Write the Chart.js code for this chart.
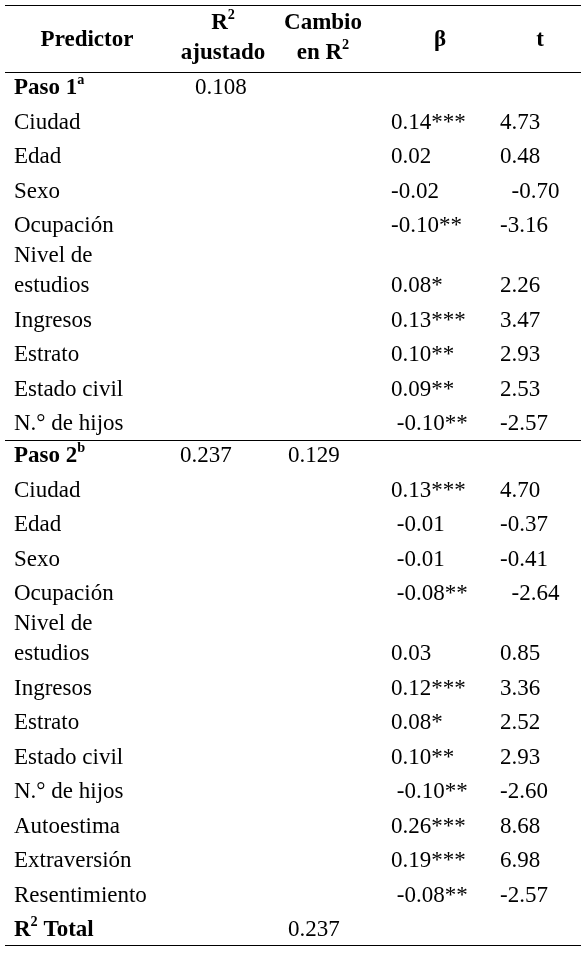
<!DOCTYPE html>
<html>
<head>
<meta charset="utf-8">
<script src="https://cdn.jsdelivr.net/npm/chart.js@4"></script>
<style>
  html, body { margin: 0; padding: 0; background: #fff; }
  #wrap { width: 587px; height: 954px; }
</style>
</head>
<body>
<div id="wrap"><canvas id="tbl"></canvas></div>
<script>
// Table values
const headers = ['Predictor', 'R^2|ajustado', 'Cambio|en R^2', 'β', 't'];
const steps = ['Paso 1_a', 'Paso 2_b'];
const r2Adjusted = ['0.108', '0.237'];
const r2Change = ['', '0.129'];
const predictors1 = ['Ciudad', 'Edad', 'Sexo', 'Ocupación', 'Nivel de|estudios', 'Ingresos', 'Estrato', 'Estado civil', 'N.° de hijos'];
const beta1 = ['0.14***', '0.02', '-0.02', '-0.10**', '0.08*', '0.13***', '0.10**', '0.09**', ' -0.10**'];
const t1 = ['4.73', '0.48', '  -0.70', '-3.16', '2.26', '3.47', '2.93', '2.53', '-2.57'];
const predictors2 = ['Ciudad', 'Edad', 'Sexo', 'Ocupación', 'Nivel de|estudios', 'Ingresos', 'Estrato', 'Estado civil', 'N.° de hijos', 'Autoestima', 'Extraversión', 'Resentimiento'];
const beta2 = ['0.13***', ' -0.01', ' -0.01', ' -0.08**', '0.03', '0.12***', '0.08*', '0.10**', ' -0.10**', '0.26***', '0.19***', ' -0.08**'];
const t2 = ['4.70', '-0.37', '-0.41', '  -2.64', '0.85', '3.36', '2.52', '2.93', '-2.60', '8.68', '6.98', '-2.57'];
const totalLabel = 'R^2 Total';
const totalValue = '0.237';

const FONT = '"Liberation Serif", "Times New Roman", serif';
const SIZE = 23;

// draws text with ^ (superscript) / _ (superscript letter) markup
function rich(ctx, str, x, y, bold, align) {
  const parts = [];
  const re = /([\^_])(\S)/g;
  let last = 0, m;
  while ((m = re.exec(str))) {
    if (m.index > last) parts.push({ t: str.slice(last, m.index), sup: false });
    parts.push({ t: m[2], sup: true });
    last = re.lastIndex;
  }
  if (last < str.length) parts.push({ t: str.slice(last), sup: false });
  const w = (p) => { ctx.font = (bold ? 'bold ' : '') + (p.sup ? SIZE * 0.62 : SIZE) + 'px ' + FONT; return ctx.measureText(p.t).width; };
  let total = parts.reduce((s, p) => s + w(p), 0);
  let cx = align === 'center' ? x - total / 2 : x;
  ctx.textBaseline = 'middle';
  ctx.textAlign = 'left';
  parts.forEach(p => {
    const pw = w(p);
    ctx.fillText(p.t, cx, p.sup ? y - 8 : y);
    cx += pw;
  });
}

const tablePlugin = {
  id: 'tablePlugin',
  afterDraw(chart) {
    const ctx = chart.ctx;
    const xs = chart.scales.x, ys = chart.scales.y;
    const X = v => xs.getPixelForValue(v);
    const Y = v => ys.getPixelForValue(v);
    ctx.save();
    ctx.fillStyle = '#000';
    ctx.strokeStyle = '#000';
    ctx.lineWidth = 1;
    const hline = (y) => { ctx.beginPath(); ctx.moveTo(X(5), Y(y) + 0.5); ctx.lineTo(X(581), Y(y) + 0.5); ctx.stroke(); };

    // header
    const hx = [87, 223, 323, 440, 540];
    headers.forEach((h, i) => {
      const lines = h.split('|');
      if (lines.length === 1) rich(ctx, lines[0], X(hx[i]), Y(40), true, 'center');
      else { rich(ctx, lines[0], X(hx[i]), Y(23), true, 'center'); rich(ctx, lines[1], X(hx[i]), Y(53), true, 'center'); }
    });
    hline(5); hline(72);

    const step = 34.5;
    const groups = [[predictors1, beta1, t1], [predictors2, beta2, t2]];
    let y = 88;
    groups.forEach((g, gi) => {
      if (gi === 1) { hline(440); y = 456; }
      rich(ctx, steps[gi], X(14), Y(y), true, 'left');
      rich(ctx, r2Adjusted[gi], X(gi === 0 ? 195 : 180), Y(y), false, 'left');
      if (r2Change[gi]) rich(ctx, r2Change[gi], X(288), Y(y), false, 'left');
      g[0].forEach((name, i) => {
        const lines = name.split('|');
        if (lines.length > 1) {
          rich(ctx, lines[0], X(14), Y(y + 30), false, 'left');
          y += 60;
          rich(ctx, lines[1], X(14), Y(y), false, 'left');
        } else {
          y += step;
          rich(ctx, lines[0], X(14), Y(y), false, 'left');
        }
        rich(ctx, g[1][i], X(391), Y(y), false, 'left');
        rich(ctx, g[2][i], X(500), Y(y), false, 'left');
      });
    });
    y += step;
    rich(ctx, totalLabel, X(14), Y(y), true, 'left');
    rich(ctx, totalValue, X(288), Y(y), false, 'left');
    hline(945);
    ctx.restore();
  }
};

new Chart(document.getElementById('tbl'), {
  type: 'scatter',
  data: { datasets: [{ data: [] }] },
  options: {
    responsive: true,
    maintainAspectRatio: false,
    animation: false,
    layout: { padding: 0 },
    plugins: { legend: { display: false }, tooltip: { enabled: false } },
    scales: {
      x: { type: 'linear', min: 0, max: 587, display: false },
      y: { type: 'linear', min: 0, max: 954, reverse: true, display: false }
    }
  },
  plugins: [tablePlugin]
});
</script>
</body>
</html>
